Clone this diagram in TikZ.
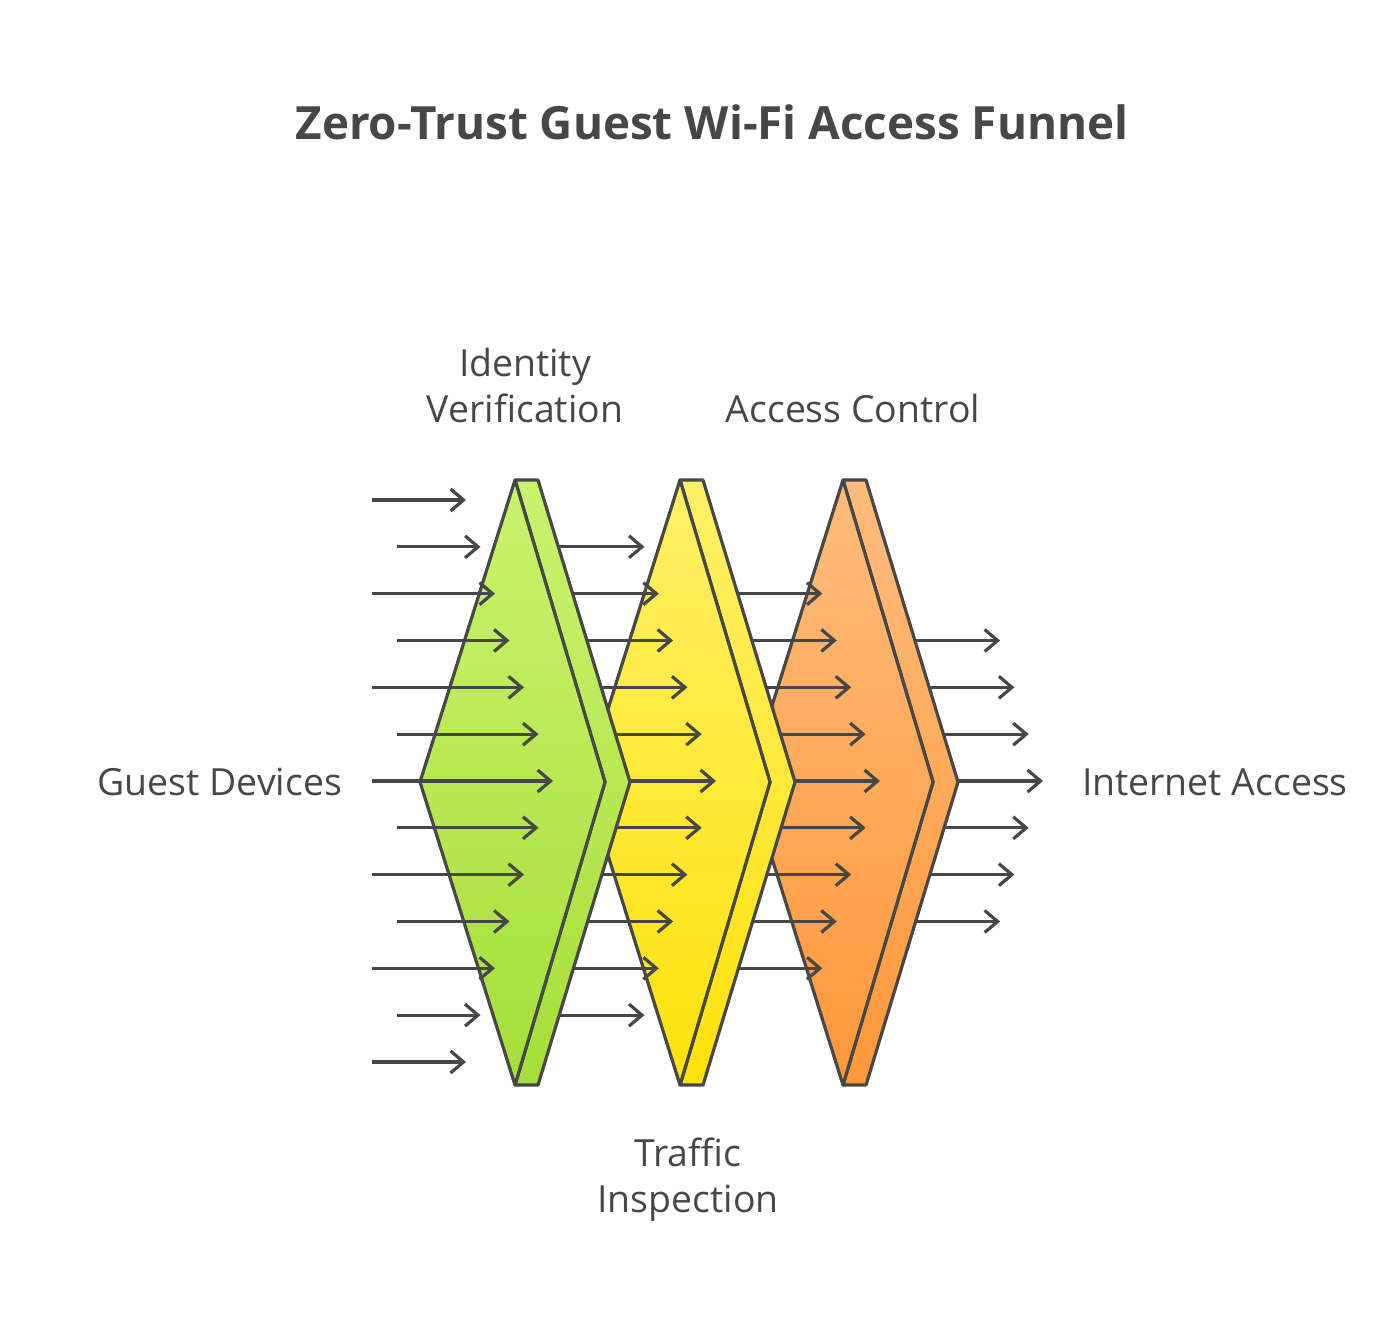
\documentclass[tikz,border=0pt]{standalone}
\usepackage{fontspec}
\setmainfont{Open Sans}
\usetikzlibrary{positioning}
\usetikzlibrary{arrows.meta}
\definecolor{ink}{HTML}{474747}
\tikzset{
	flow/.style={draw=ink, line width=1.6pt, -{Straight Barb[length=6.5pt,width=11pt,line width=1.6pt]}},
	panel/.style={draw=ink, line width=1.6pt, line join=round},
	lbl/.style={text=ink, font=\fontsize{18.7}{23}\selectfont, align=center}
}
% one filter: #1 = x of top left corner, #2 #3 = colours
\newcommand{\filterpanel}[4]{%
	\shade[panel, top color=#4, bottom color=#3]
		(#1+23,480) -- (#1+115,782) -- (#1+23,1085) -- (#1,1085) -- (#1+90,782) -- (#1,480) -- cycle;
	\shade[panel, top color=#2, bottom color=#3]
		(#1,480) -- (#1-95,782) -- (#1,1085) -- (#1+90,782) -- cycle;
}
\definecolor{grt}{HTML}{C8F46E}
\definecolor{grb}{HTML}{A6DE38}
\definecolor{yet}{HTML}{FFF068}
\definecolor{yeb}{HTML}{FFE20A}
\definecolor{ort}{HTML}{FFBC7C}
\definecolor{orb}{HTML}{FF983A}
\begin{document}
\begin{tikzpicture}[x=0.5pt, y=-0.5pt]
	\useasboundingbox (0,0) rectangle (1400,1320);
	% Title
	\node[text=ink, font=\fontsize{22.9}{27}\selectfont\bfseries] (title) at (712,122) {Zero-Trust Guest Wi-Fi Access Funnel};
	
	% Orange panel and arrows leaving yellow
	\filterpanel{843}{ort}{orb}{ort}
	\foreach \r in {2,...,10} {
		\pgfmathsetmacro{\ex}{880-14.4*abs(\r-6)}
		\coordinate (s3\r) at (715,500+46.83*\r);
		\coordinate (e3\r) at (\ex,500+46.83*\r);
		\draw[flow] (s3\r) -- (e3\r);
	}
	% Yellow panel and arrows leaving green
	\filterpanel{680}{yet}{yeb}{yet}
	\foreach \r in {1,...,11} {
		\pgfmathsetmacro{\ex}{716-14.3*abs(\r-6)}
		\coordinate (s2\r) at (550,500+46.83*\r);
		\coordinate (e2\r) at (\ex,500+46.83*\r);
		\draw[flow] (s2\r) -- (e2\r);
	}
	% Green panel and incoming arrows
	\filterpanel{515}{grt}{grb}{grt}
	\foreach \r in {0,...,12} {
		\pgfmathsetmacro{\ex}{553-14.5*abs(\r-6)}
		\pgfmathsetmacro{\sx}{isodd(\r) ? 397 : 372}
		\coordinate (s1\r) at (\sx,500+46.83*\r);
		\coordinate (e1\r) at (\ex,500+46.83*\r);
		\draw[flow] (s1\r) -- (e1\r);
	}
	% Outgoing arrows
	\foreach \r in {3,...,9} {
		\pgfmathsetmacro{\sx}{915+14.3*(3-abs(\r-6))}
		\pgfmathsetmacro{\ex}{1043-14.3*abs(\r-6)}
		\coordinate (s4\r) at (\sx,500+46.83*\r);
		\coordinate (e4\r) at (\ex,500+46.83*\r);
		\draw[flow] (s4\r) -- (e4\r);
	}
	
	% Labels
	\node[lbl] (identity) at (525,385) {Identity\\Verification};
	\node[lbl] (access) at (853,408) {Access Control};
	\node[lbl] (traffic) at (688,1180) {Traffic\\Inspection};
	\node[lbl, anchor=east] (guest) at (349,782) {Guest Devices};
	\node[lbl, anchor=west] (internet) at (1075,782) {Internet Access};
\end{tikzpicture}
\end{document}
